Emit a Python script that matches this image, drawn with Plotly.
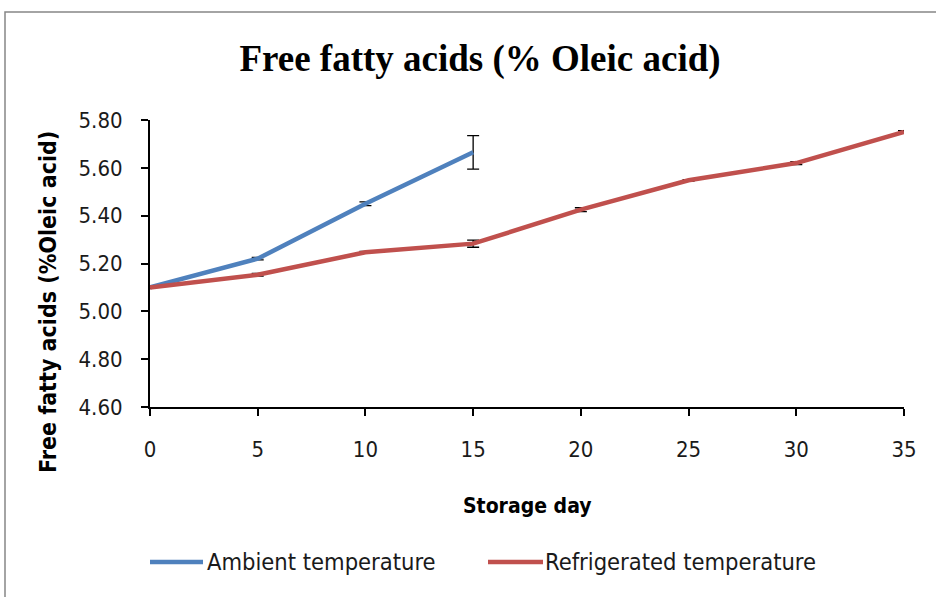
import plotly.graph_objects as go

days_ambient = [0, 5, 10, 15]
ffa_ambient = [5.10, 5.22, 5.45, 5.665]
err_ambient = [0.003, 0.005, 0.008, 0.07]

days_refrig = [0, 5, 10, 15, 20, 25, 30, 35]
ffa_refrig = [5.10, 5.153, 5.247, 5.283, 5.425, 5.548, 5.62, 5.75]
err_refrig = [0.003, 0.006, 0.004, 0.015, 0.008, 0.003, 0.006, 0.005]

x_ticks = [0, 5, 10, 15, 20, 25, 30, 35]
y_ticks = [4.6, 4.8, 5.0, 5.2, 5.4, 5.6, 5.8]
y_ticklabels = ["4.60", "4.80", "5.00", "5.20", "5.40", "5.60", "5.80"]

series_names = ["Ambient temperature", "Refrigerated temperature"]
series_colors = ["#4F81BD", "#C0504D"]

W, H = 936, 597
L, R, T, B = 150, 32, 120, 190
PW, PH = W - L - R, H - T - B


def px(X):
    return (X - L) / PW


def py(Y):
    return (H - B - Y) / PH


COND = "DejaVu Sans Condensed, DejaVu Sans, sans-serif"
tick_font = dict(family=COND, size=22, color="#1a1a1a")

fig = go.Figure()
fig.add_trace(go.Scatter(
    x=days_ambient, y=ffa_ambient, mode="lines", name=series_names[0],
    line=dict(color=series_colors[0], width=4.5),
    error_y=dict(type="data", array=err_ambient, color="black", thickness=1.3, width=6),
))
fig.add_trace(go.Scatter(
    x=days_refrig, y=ffa_refrig, mode="lines", name=series_names[1],
    line=dict(color=series_colors[1], width=4.5),
    error_y=dict(type="data", array=err_refrig, color="black", thickness=1.3, width=6),
))

fig.update_layout(
    width=W, height=H,
    margin=dict(l=L, r=R, t=T, b=B),
    paper_bgcolor="white", plot_bgcolor="white",
    showlegend=False,
    title=dict(text="<b>Free fatty acids (% Oleic acid)</b>", x=480 / W, xref="container", xanchor="center",
               y=1 - 58 / H, yref="container", yanchor="middle",
               font=dict(family="Liberation Serif, Times New Roman, serif", size=37, color="black")),
)

fig.update_xaxes(
    range=[0, 35], tickvals=x_ticks, ticks="outside", ticklen=7, tickwidth=1.5, tickcolor="black",
    showline=True, linecolor="black", linewidth=2, showgrid=False, zeroline=False,
    tickfont=tick_font, ticklabelstandoff=15,
)
fig.update_yaxes(
    range=[4.6, 5.8], tickvals=y_ticks, ticktext=y_ticklabels, ticks="outside", ticklen=7, tickwidth=1.5,
    tickcolor="black", showline=True, linecolor="black", linewidth=2, showgrid=False, zeroline=False,
    tickfont=tick_font, ticklabelstandoff=14,
)

# axis titles
fig.add_annotation(text="<b>Storage day</b>", xref="paper", yref="paper", x=px(527), y=py(506),
                   showarrow=False, xanchor="center", yanchor="middle",
                   font=dict(family=COND, size=21, color="black"))
fig.add_annotation(text="<b>Free fatty acids (%Oleic acid)</b>", textangle=-90,
                   xref="paper", yref="paper", x=px(48), y=py(302),
                   showarrow=False, xanchor="center", yanchor="middle",
                   font=dict(family=COND, size=23, color="black"))

# legend (drawn manually to match long line samples)
legend_lines = [(150, 203), (488, 543)]
legend_text_x = [205, 543]
for (x0, x1), tx, name, col in zip(legend_lines, legend_text_x, series_names, series_colors):
    fig.add_shape(type="line", xref="paper", yref="paper", x0=px(x0), x1=px(x1), y0=py(562), y1=py(562),
                  line=dict(color=col, width=4.5))
    fig.add_annotation(text=name, xref="paper", yref="paper", x=px(tx), y=py(562),
                       showarrow=False, xanchor="left", yanchor="middle",
                       font=dict(family=COND, size=23.5, color="#1a1a1a"))

# outer chart frame
fig.add_shape(type="rect", xref="paper", yref="paper",
              x0=px(5), x1=px(1000), y0=py(700), y1=py(12),
              line=dict(color="#868686", width=1.5), fillcolor="rgba(0,0,0,0)", layer="below")

fig.write_html("out.html", config={"displayModeBar": False},
               post_script="document.body.style.margin='0px';")
